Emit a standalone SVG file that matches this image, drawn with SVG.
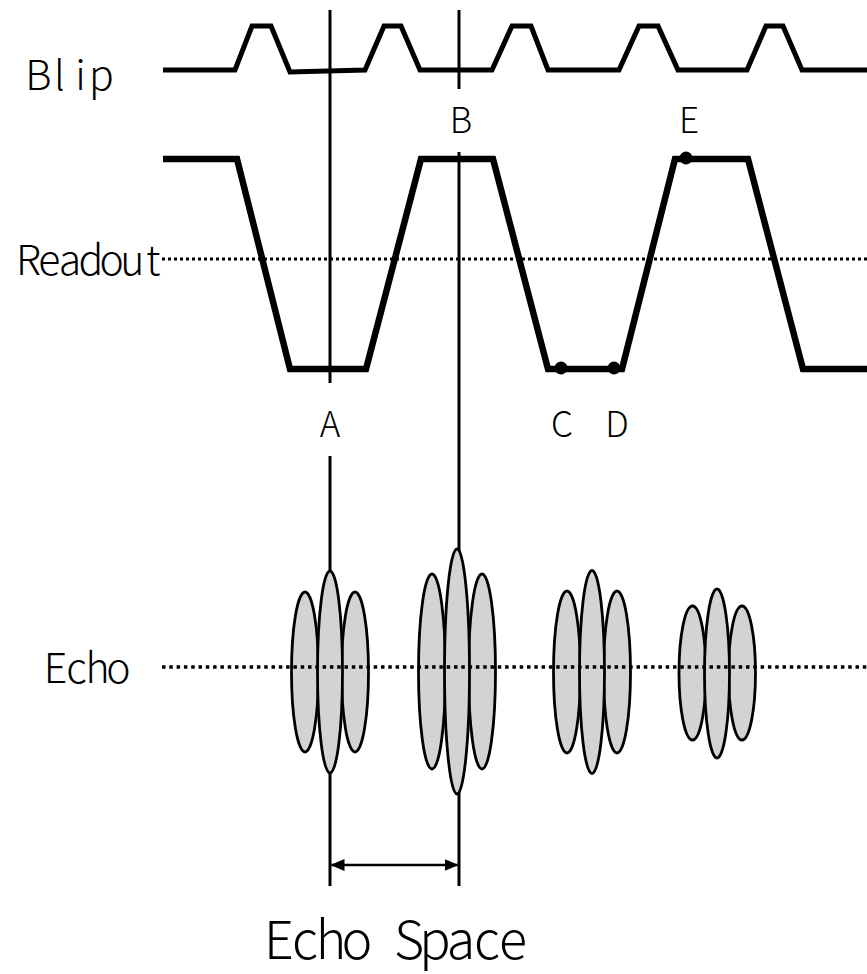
<svg xmlns="http://www.w3.org/2000/svg" width="867" height="974" viewBox="0 0 867 974">
<defs>
<style>
.lbl{font-family:"Noto Sans CJK JP","DejaVu Sans Mono",monospace;font-weight:300;fill:#000;text-anchor:middle}
.big{font-size:41px}
.sm{font-size:35px}
.wave{fill:none;stroke:#000;stroke-linejoin:miter}
.vline{stroke:#000;stroke-width:3;fill:none}
.dot{fill:none;stroke:#000}
.ell{fill:#d3d3d3;stroke:#000;stroke-width:2.8}
.pt{fill:#000}
</style>
<marker id="ah" viewBox="0 0 14 12" refX="13" refY="6" markerWidth="14" markerHeight="12" markerUnits="userSpaceOnUse" orient="auto-start-reverse">
<path d="M0,0 L14,6 L0,12 Z" fill="#000"/>
</marker>
</defs>
<rect width="867" height="974" fill="#fff"/>

<g id="vertical-lines">
<line class="vline" x1="330" y1="10" x2="330" y2="383"/>
<line class="vline" x1="330" y1="456" x2="330" y2="886"/>
<line class="vline" x1="459" y1="10" x2="459" y2="89"/>
<line class="vline" x1="459" y1="152" x2="459" y2="886"/>
</g>

<g id="blip">
<text class="lbl big" x="38.5 59.5 80.5 101.5" y="90">Blip</text>
<path class="wave" stroke-width="5" d="M163,70 L235,70 L252,26 L271,26 L290,72 L365,70 L384,26 L401,26 L420,70 L492,70 L512,26 L531,26 L548,70 L619,70 L639,26 L658,26 L678,70 L747,70 L766,26 L783,26 L802,70 L867,70"/>
</g>

<g id="readout">
<text class="lbl big" x="28.4 49.2 70 90.8 111.6 132.4 153.2" y="275">Readout</text>
<line class="dot" x1="162" y1="259" x2="867" y2="259" stroke-width="3" stroke-dasharray="3 3"/>
<path class="wave" stroke-width="6.5" d="M163,159 L237,159 L290,369 L366,369 L421,159 L493,159 L548,369 L622,369 L675,159 L748,159 L803,369 L867,369"/>
<circle class="pt" cx="561" cy="368" r="6.5"/>
<circle class="pt" cx="614" cy="368" r="6.5"/>
<circle class="pt" cx="686" cy="158" r="6.5"/>
</g>

<g id="labels">
<text class="lbl sm" x="330" y="437">A</text>
<text class="lbl sm" x="461" y="133">B</text>
<text class="lbl sm" x="562" y="437">C</text>
<text class="lbl sm" x="617" y="437">D</text>
<text class="lbl sm" x="689" y="133">E</text>
</g>

<g id="echo">
<text class="lbl big" x="55.5 76.5 97.5 118.5" y="683">Echo</text>
<g id="echo-group-1">
<ellipse class="ell" cx="305" cy="672" rx="13.5" ry="80"/>
<ellipse class="ell" cx="355" cy="672" rx="13.5" ry="80"/>
<ellipse class="ell" cx="330" cy="672" rx="12.5" ry="101"/>
</g>
<g id="echo-group-2">
<ellipse class="ell" cx="432" cy="671.5" rx="13.5" ry="97.5"/>
<ellipse class="ell" cx="482" cy="671.5" rx="13.5" ry="97.5"/>
<ellipse class="ell" cx="457" cy="671.5" rx="12.5" ry="122.5"/>
</g>
<g id="echo-group-3">
<ellipse class="ell" cx="567" cy="672" rx="13.5" ry="81"/>
<ellipse class="ell" cx="617" cy="672" rx="13.5" ry="81"/>
<ellipse class="ell" cx="592" cy="672" rx="12.5" ry="101.5"/>
</g>
<g id="echo-group-4">
<ellipse class="ell" cx="692.5" cy="673" rx="13.5" ry="67"/>
<ellipse class="ell" cx="742" cy="673" rx="13.5" ry="67"/>
<ellipse class="ell" cx="717" cy="673.5" rx="12.5" ry="84.5"/>
</g>
<line class="dot" x1="162" y1="667" x2="867" y2="667" stroke-width="3.5" stroke-dasharray="3.5 3.8"/>
</g>

<g id="connectors">
<line x1="331.5" y1="865" x2="457.5" y2="865" stroke="#000" stroke-width="2.5" marker-start="url(#ah)" marker-end="url(#ah)"/>
</g>

<g id="echo-space">
<text class="lbl" x="279 305 331 357 383 409 435 461 487 513" y="959" font-size="52">Echo Space</text>
</g>
</svg>
